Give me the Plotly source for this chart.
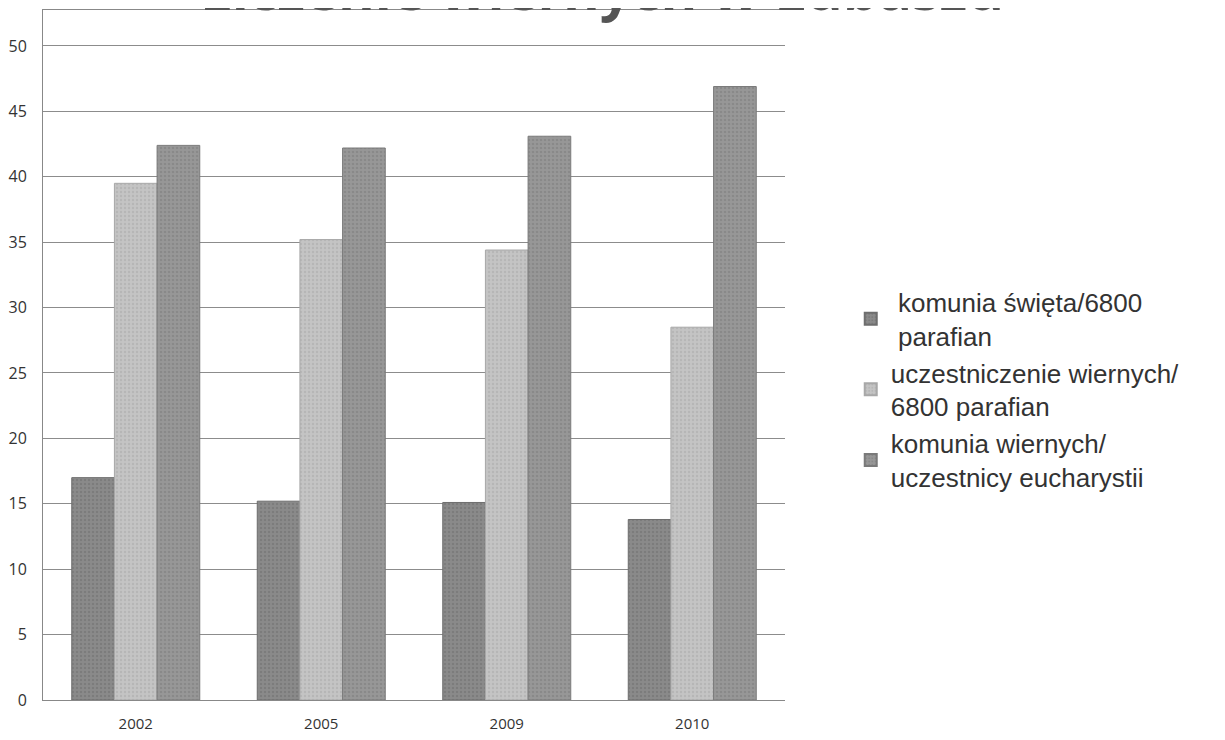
import plotly.graph_objects as go

years = ["2002", "2005", "2009", "2010"]
series_names = [
    "\u00a0komunia święta/6800<br>\u00a0parafian",
    "uczestniczenie wiernych/<br>6800 parafian",
    "komunia wiernych/<br>uczestnicy eucharystii",
]
komunia_swieta = [17.0, 15.2, 15.1, 13.8]
uczestniczenie = [39.5, 35.2, 34.4, 28.5]
komunia_wiernych = [42.4, 42.2, 43.1, 46.9]
y_ticks = [0, 5, 10, 15, 20, 25, 30, 35, 40, 45, 50]
title_text = "Liczenie wiernych w Lubaszu"

colors = ["#8a8a8a", "#c4c4c4", "#979797"]
line_colors = ["#6e6e6e", "#a8a8a8", "#7a7a7a"]

fig = go.Figure()
for name, vals, c, lc in zip(series_names, [komunia_swieta, uczestniczenie, komunia_wiernych], colors, line_colors):
    fig.add_trace(go.Bar(
        x=years, y=vals, name=name,
        marker=dict(color=c, line=dict(color=lc, width=1),
                    pattern=dict(shape=".", fgcolor=lc, size=4, solidity=0.3)),
    ))

# the page body has an 8px margin, so the figure is sized/offset to compensate
fig.update_layout(
    width=1217, height=732,
    margin=dict(l=35, r=440, t=2, b=40, autoexpand=False),
    paper_bgcolor="white", plot_bgcolor="white",
    barmode="group", bargap=0.31, bargroupgap=0,
    font=dict(family="Open Sans, Lato, sans-serif", color="#333333", size=14),
    showlegend=True,
    legend=dict(
        x=1.0886, y=0.611, xanchor="left", yanchor="top",
        font=dict(family="Liberation Sans, Arial, sans-serif", size=26, color="#333333"),
        valign="middle", itemsizing="constant", tracegroupgap=0,
        bgcolor="rgba(0,0,0,0)",
    ),
    xaxis=dict(
        type="category", range=[-0.5, 3.5], automargin=False,
        showline=True, linecolor="#888888", linewidth=1, mirror=True,
        showgrid=False, ticks="", ticklabelstandoff=10,
        tickfont=dict(size=15, color="#333333"),
    ),
    yaxis=dict(
        range=[0, 52.75], tickvals=y_ticks, automargin=False,
        showline=True, linecolor="#888888", linewidth=1,
        showgrid=True, gridcolor="#8c8c8c", gridwidth=1,
        ticks="", ticklabelstandoff=12, zeroline=False,
        tickfont=dict(size=16, color="#333333"),
    ),
    annotations=[dict(
        text="<b>" + title_text + "</b>", xref="paper", yref="paper",
        x=0.753, y=1.0, xanchor="center", yanchor="bottom", yshift=-18,
        showarrow=False,
        font=dict(family="Open Sans, Lato, sans-serif", size=56, color="#555555"),
    )],
)

fig.write_html("out.html")
